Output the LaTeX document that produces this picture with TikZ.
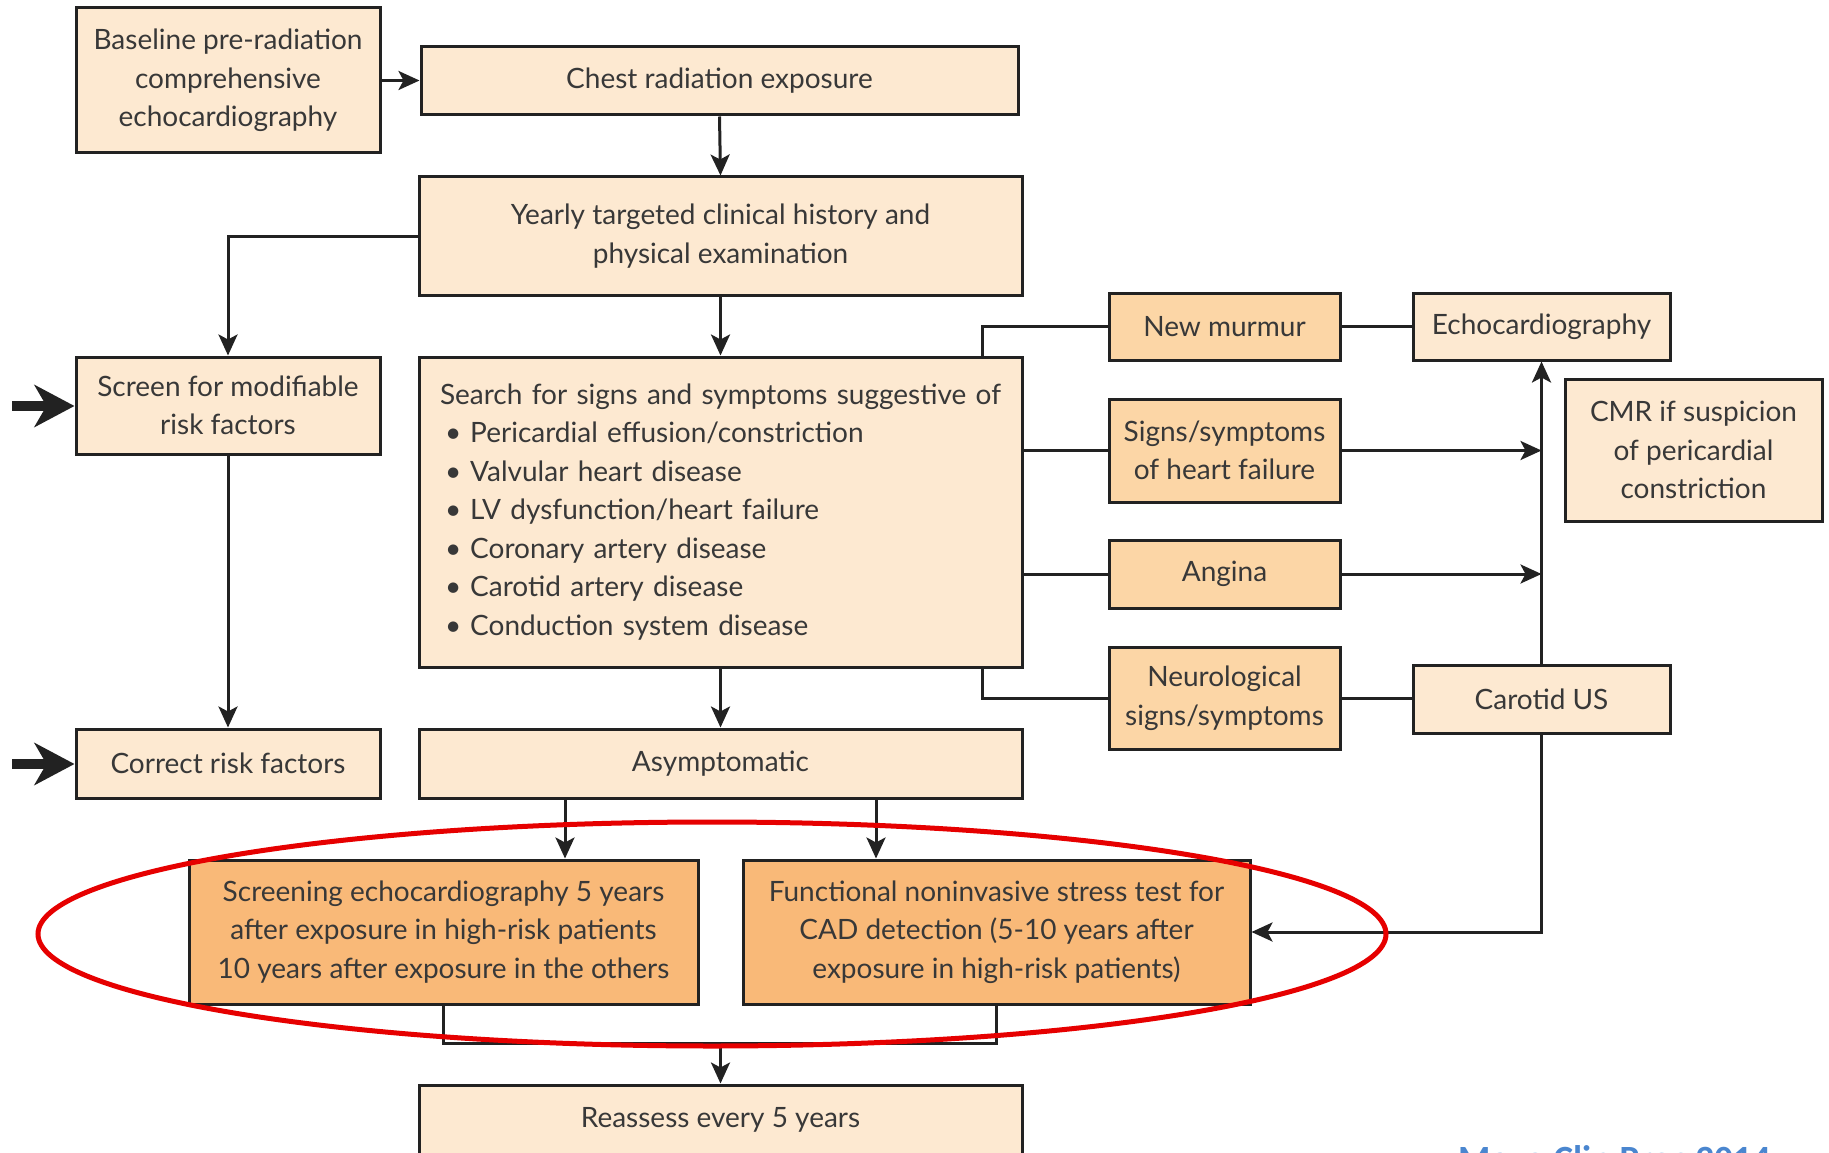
\documentclass[tikz,border=0pt]{standalone}
\usepackage{fontspec}
\setmainfont{Lato}
\newfontfamily\mayofont{Carlito}
\usetikzlibrary{arrows.meta}
\definecolor{lightbox}{HTML}{FDE9D1}
\definecolor{midbox}{HTML}{FCD6A6}
\definecolor{darkbox}{HTML}{F9B978}
\definecolor{txt}{HTML}{383838}
\definecolor{edge}{HTML}{222222}
\definecolor{ovalred}{HTML}{E60000}
\definecolor{cite}{HTML}{4A86CF}
\begin{document}
\begin{tikzpicture}[x=1pt,y=-1pt,
  box/.style={draw=edge, line width=3pt, fill=lightbox, text=txt, align=center, inner sep=0pt,
    font=\fontsize{28}{38.5}\selectfont},
  midb/.style={box, fill=midbox},
  darkb/.style={box, fill=darkbox},
  conn/.style={draw=edge, line width=3pt},
  arr/.style={conn, -{Stealth[length=21pt,width=19pt,inset=5pt]}},
  bigarr/.style={draw=edge, line width=10pt, -{Stealth[length=40pt,width=42pt,inset=12pt]}}
]
\useasboundingbox (0,0) rectangle (1829,1153);
\fill[white] (0,0) rectangle (1829,1153);

\node[box, minimum width=304pt, minimum height=145pt] (base) at (228,80.5) {Baseline pre-radiation\\comprehensive\\echocardiography};
\node[box, minimum width=597pt, minimum height=68pt] (chest) at (719.5,81) {Chest radiation exposure};
\node[box, minimum width=603pt, minimum height=118pt] (yearly) at (720.5,236) {Yearly targeted clinical history and\\physical examination};
\node[box, minimum width=304pt, minimum height=97pt] (screen) at (228,405.5) {Screen for modifiable\\risk factors};
\node[box, minimum width=603pt, minimum height=310pt, text width=561pt, align=left] (search) at (720.5,512)
 {\mbox{Search for signs and symptoms suggestive of}\\
  \hspace*{5pt}\textbullet\hspace{9pt}Pericardial effusion/constriction\\
  \hspace*{5pt}\textbullet\hspace{9pt}Valvular heart disease\\
  \hspace*{5pt}\textbullet\hspace{9pt}LV dysfunction/heart failure\\
  \hspace*{5pt}\textbullet\hspace{9pt}Coronary artery disease\\
  \hspace*{5pt}\textbullet\hspace{9pt}Carotid artery disease\\
  \hspace*{5pt}\textbullet\hspace{9pt}Conduction system disease};
\node[midb, minimum width=231pt, minimum height=67pt] (murmur) at (1224.5,326.5) {New murmur};
\node[box, minimum width=257pt, minimum height=67pt] (echo) at (1541.5,326.5) {Echocardiography};
\node[midb, minimum width=231pt, minimum height=103pt] (hf) at (1224.5,450.5) {Signs/symptoms\\of heart failure};
\node[box, minimum width=257pt, minimum height=142pt] (cmr) at (1693.5,450) {CMR if suspicion\\of pericardial\\constriction};
\node[midb, minimum width=231pt, minimum height=68pt] (angina) at (1224.5,574) {Angina};
\node[midb, minimum width=231pt, minimum height=102pt] (neuro) at (1224.5,698) {Neurological\\signs/symptoms};
\node[box, minimum width=257pt, minimum height=68pt] (carotid) at (1541.5,699) {Carotid US};
\node[box, minimum width=304pt, minimum height=69pt] (correct) at (228,763.5) {Correct risk factors};
\node[box, minimum width=603pt, minimum height=69pt] (asym) at (720.5,763.5) {Asymptomatic};
\node[darkb, minimum width=509pt, minimum height=144pt] (scr) at (443.5,932) {Screening echocardiography 5 years\\after exposure in high-risk patients\\10 years after exposure in the others};
\node[darkb, minimum width=507pt, minimum height=144pt] (func) at (996.5,932) {Functional noninvasive stress test for\\CAD detection (5-10 years after\\exposure in high-risk patients)};
\node[box, minimum width=603pt, minimum height=70pt] (reassess) at (720.5,1120) {Reassess every 5 years};

\node[anchor=base west, text=cite, font=\mayofont\bfseries\fontsize{37}{42}\selectfont, inner sep=0pt] (cite) at (1458,1171) {Mayo Clin Proc 2014};

% left thick arrows
\coordinate (inA) at (12,406);
\coordinate (inB) at (12,764);
\draw[bigarr] (inA) -- (inA -| screen.west);
\draw[bigarr] (inB) -- (inB -| correct.west);

% main flow
\draw[arr] (base.east) -- (base.east -| chest.west);
\draw[arr] (chest.south) -- (yearly.north);
\draw[arr] (yearly.west) -| (screen.north);
\draw[arr] (yearly.south) -- (search.north);
\draw[arr] (screen.south) -- (correct.north);
\draw[arr] (search.south) -- (asym.north);

% branches
\draw[conn] ([xshift=-41pt]search.north east) |- (murmur.west);
\draw[conn] (murmur.east) -- (echo.west);
\draw[conn] (search.east |- hf.west) -- (hf.west);
\draw[conn] (search.east |- angina.west) -- (angina.west);
\draw[conn] ([xshift=-41pt]search.south east) |- (neuro.west);
\draw[conn] (neuro.east) -- (neuro.east -| carotid.west);
\draw[arr] (hf.east) -- (hf.east -| echo.south);
\draw[arr] (angina.east) -- (angina.east -| echo.south);
\draw[arr] (carotid.north) -- (echo.south);
\draw[arr] (carotid.south) |- (func.east);

% to screening boxes
\draw[arr] ([xshift=-155.5pt]asym.south) -- ([xshift=-155.5pt]asym.south |- scr.north);
\draw[arr] ([xshift=155.5pt]asym.south) -- ([xshift=155.5pt]asym.south |- func.north);
\coordinate (join) at (720.5,1043);
\draw[conn] (scr.south) |- (join) -| (func.south);
\draw[arr] (join) -- (reassess.north);

% red oval
\draw[ovalred, line width=5pt] (712,934) ellipse [x radius=674pt, y radius=112pt];
\end{tikzpicture}
\end{document}
